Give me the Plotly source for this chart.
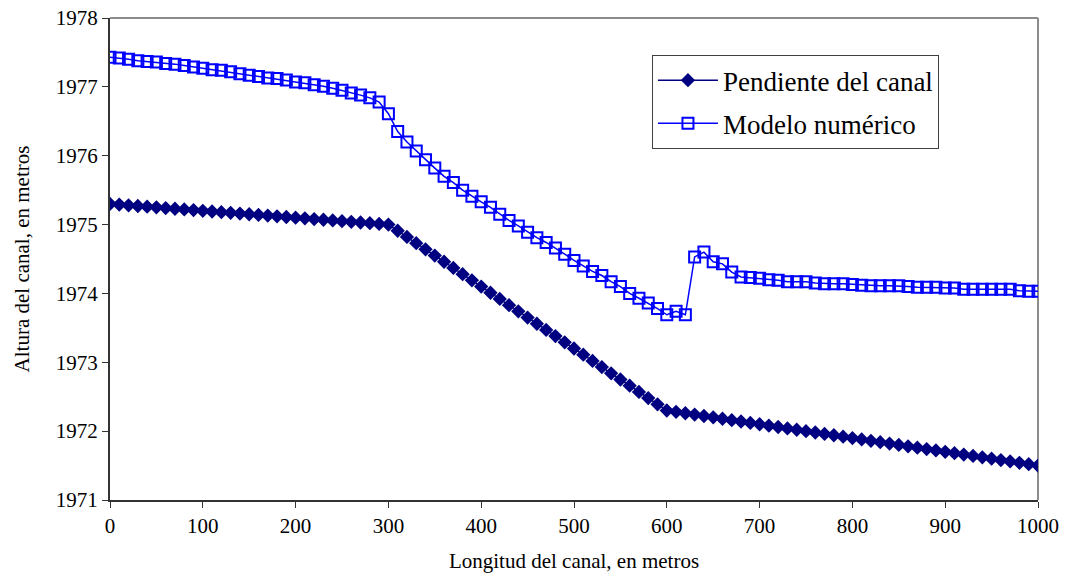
import plotly.graph_objects as go

NAVY = "#000080"
BLUE = "#0000FF"
FONT = "Liberation Serif, Times New Roman, serif"

x_m = [
    0, 10, 20, 30, 40, 50, 60, 70, 80, 90,
    100, 110, 120, 130, 140, 150, 160, 170, 180, 190,
    200, 210, 220, 230, 240, 250, 260, 270, 280, 290,
    300, 310, 320, 330, 340, 350, 360, 370, 380, 390,
    400, 410, 420, 430, 440, 450, 460, 470, 480, 490,
    500, 510, 520, 530, 540, 550, 560, 570, 580, 590,
    600, 610, 620, 630, 640, 650, 660, 670, 680, 690,
    700, 710, 720, 730, 740, 750, 760, 770, 780, 790,
    800, 810, 820, 830, 840, 850, 860, 870, 880, 890,
    900, 910, 920, 930, 940, 950, 960, 970, 980, 990,
    1000,
]

pendiente = [
    1975.30, 1975.29, 1975.28, 1975.27, 1975.26, 1975.25, 1975.24, 1975.23, 1975.22, 1975.21,
    1975.20, 1975.19, 1975.18, 1975.17, 1975.16, 1975.15, 1975.14, 1975.13, 1975.12, 1975.11,
    1975.10, 1975.09, 1975.08, 1975.07, 1975.06, 1975.05, 1975.04, 1975.03, 1975.02, 1975.01,
    1975.00, 1974.91, 1974.82, 1974.73, 1974.64, 1974.55, 1974.46, 1974.37, 1974.28, 1974.19,
    1974.10, 1974.01, 1973.92, 1973.83, 1973.74, 1973.65, 1973.56, 1973.47, 1973.38, 1973.29,
    1973.20, 1973.11, 1973.02, 1972.93, 1972.84, 1972.75, 1972.66, 1972.57, 1972.48, 1972.39,
    1972.30, 1972.28, 1972.26, 1972.24, 1972.22, 1972.20, 1972.18, 1972.16, 1972.14, 1972.12,
    1972.10, 1972.08, 1972.06, 1972.04, 1972.02, 1972.00, 1971.98, 1971.96, 1971.94, 1971.92,
    1971.90, 1971.88, 1971.86, 1971.84, 1971.82, 1971.80, 1971.78, 1971.76, 1971.74, 1971.72,
    1971.70, 1971.68, 1971.66, 1971.64, 1971.62, 1971.60, 1971.58, 1971.56, 1971.54, 1971.52,
    1971.50,
]

modelo = [
    1977.43, 1977.42, 1977.40, 1977.38, 1977.37, 1977.36, 1977.34, 1977.33, 1977.31, 1977.29,
    1977.27, 1977.25, 1977.24, 1977.22, 1977.19, 1977.17, 1977.15, 1977.13, 1977.12, 1977.10,
    1977.07, 1977.06, 1977.03, 1977.01, 1976.98, 1976.95, 1976.91, 1976.88, 1976.84, 1976.78,
    1976.61, 1976.35, 1976.20, 1976.07, 1975.94, 1975.82, 1975.70, 1975.61, 1975.50, 1975.41,
    1975.33, 1975.25, 1975.15, 1975.06, 1974.98, 1974.89, 1974.81, 1974.74, 1974.66, 1974.57,
    1974.48, 1974.40, 1974.32, 1974.26, 1974.17, 1974.10, 1974.00, 1973.93, 1973.86, 1973.78,
    1973.69, 1973.74, 1973.69, 1974.53, 1974.60, 1974.46, 1974.43, 1974.31, 1974.24, 1974.23,
    1974.22, 1974.20, 1974.19, 1974.17, 1974.17, 1974.17, 1974.15, 1974.14, 1974.14, 1974.14,
    1974.13, 1974.12, 1974.11, 1974.11, 1974.11, 1974.11, 1974.10, 1974.09, 1974.09, 1974.09,
    1974.08, 1974.08, 1974.06, 1974.06, 1974.06, 1974.06, 1974.06, 1974.06, 1974.04, 1974.03,
    1974.03,
]

fig = go.Figure()

fig.add_trace(go.Scatter(
    x=x_m, y=pendiente, name="Pendiente del canal", legendgroup="a",
    mode="lines+markers",
    line=dict(color=NAVY, width=1.5),
    marker=dict(symbol="diamond", size=11, color=NAVY),
))

fig.add_trace(go.Scatter(
    x=x_m, y=modelo, name="Modelo numérico", legendgroup="b",
    mode="lines+markers",
    line=dict(color=BLUE, width=1.5),
    marker=dict(symbol="square-open", size=11, color=BLUE, line=dict(width=2)),
))

# gray frame on top and right like the original
fig.add_shape(type="line", xref="paper", yref="paper", x0=0, x1=1, y0=1, y1=1,
              line=dict(color="#8c8c8c", width=2), layer="below")
fig.add_shape(type="line", xref="paper", yref="paper", x0=1, x1=1, y0=0, y1=1,
              line=dict(color="#8c8c8c", width=2), layer="below")

fig.update_layout(
    width=1067, height=580,
    paper_bgcolor="white", plot_bgcolor="white",
    font=dict(family=FONT, color="black", size=21),
    margin=dict(l=110, r=29, t=18, b=80),
    showlegend=True,
    legend=dict(
        x=0.584, y=0.923, xanchor="left", yanchor="top",
        bgcolor="white", bordercolor="#404040", borderwidth=1,
        font=dict(family=FONT, size=27, color="black"),
        tracegroupgap=5, itemwidth=60,
    ),
    xaxis=dict(
        range=[0, 1000], tickvals=[0, 100, 200, 300, 400, 500, 600, 700, 800, 900, 1000],
        showgrid=False, zeroline=False, automargin=False,
        showline=True, linecolor="#333333", linewidth=2,
        ticks="outside", ticklen=6, tickcolor="#333333",
        tickfont=dict(size=21), ticklabeloverflow="allow",
        title=dict(text="Longitud del canal, en metros", font=dict(size=21), standoff=16),
    ),
    yaxis=dict(
        range=[1971, 1978], dtick=1, tickformat="d",
        showgrid=False, zeroline=False, automargin=False,
        showline=True, linecolor="#333333", linewidth=2,
        ticks="outside", ticklen=6, tickcolor="#333333",
        tickfont=dict(size=21), ticklabeloverflow="allow",
        title=dict(text="Altura del canal, en metros", font=dict(size=21), standoff=20),
    ),
)

# drop the default 8px page margin so the figure fills the window exactly
fig.write_html("out.html", config={"displayModeBar": False},
               post_script="document.body.style.margin='0';")
